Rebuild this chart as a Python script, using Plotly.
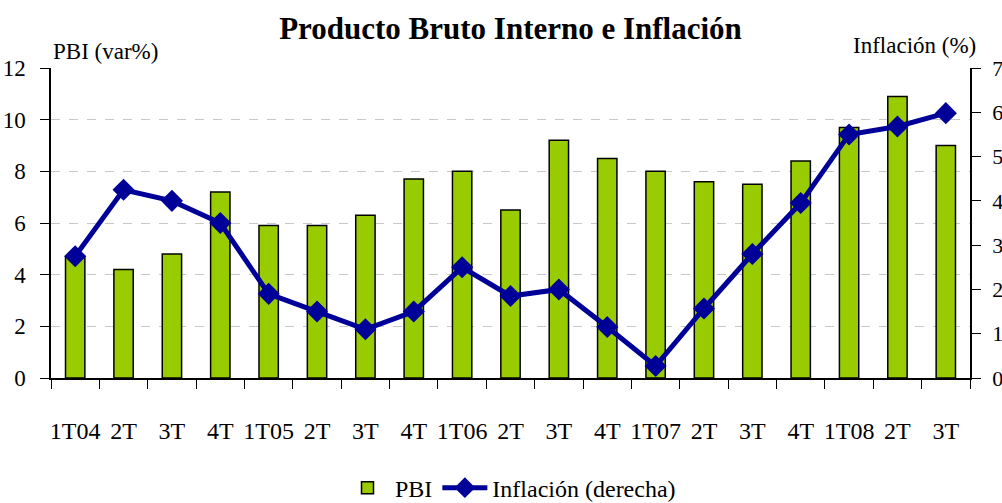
import plotly.graph_objects as go

quarters = ["1T04", "2T", "3T", "4T", "1T05", "2T", "3T", "4T", "1T06", "2T",
            "3T", "4T", "1T07", "2T", "3T", "4T", "1T08", "2T", "3T"]
pbi = [4.7, 4.2, 4.8, 7.2, 5.9, 5.9, 6.3, 7.7, 8.0, 6.5,
       9.2, 8.5, 8.0, 7.6, 7.5, 8.4, 9.7, 10.9, 9.0]
inflacion = [2.75, 4.25, 4.0, 3.5, 1.9, 1.5, 1.1, 1.5, 2.5, 1.85,
             2.0, 1.15, 0.27, 1.57, 2.8, 3.95, 5.5, 5.68, 5.98]

x = list(range(len(quarters)))
FONT = "Liberation Serif, Times New Roman, serif"

W, H = 1002, 503

fig = go.Figure()
fig.add_trace(go.Bar(
    x=x, y=pbi, name="PBI", width=0.4,
    marker=dict(color="#99CC00", line=dict(color="black", width=1.5)),
    yaxis="y",
))
fig.add_trace(go.Scatter(
    x=x, y=inflacion, name="Inflación (derecha)", mode="lines+markers",
    line=dict(color="#000099", width=5),
    marker=dict(symbol="diamond", size=17, color="#000099"),
    yaxis="y2",
))

fig.update_layout(
    width=W, height=H,
    margin=dict(l=51, r=32, t=68, b=125, autoexpand=False),
    paper_bgcolor="white", plot_bgcolor="white",
    font=dict(family=FONT, size=23, color="black"),
    title=dict(text="<b>Producto Bruto Interno e Inflación</b>",
               x=0.5, xref="paper", xanchor="center",
               y=1 - 28 / H, yanchor="middle",
               font=dict(family=FONT, size=31, color="black")),
    showlegend=True,
    legend=dict(orientation="h", x=0.5, xanchor="center", y=-0.355, yanchor="middle",
                font=dict(family=FONT, size=24), bgcolor="rgba(0,0,0,0)",
                itemwidth=45, tracegroupgap=0),
    xaxis=dict(range=[-0.5, len(quarters) - 0.5], tickmode="array",
               tickvals=x, ticktext=quarters, ticks="", automargin=False,
               showline=True, linecolor="black", linewidth=1.5,
               showgrid=False, zeroline=False,
               ticklabelstandoff=30,
               minor=dict(ticks="outside", tickmode="array",
                          tickvals=[i - 0.5 for i in range(len(quarters) + 1)],
                          ticklen=9, tickcolor="black", tickwidth=1.2, showgrid=False),
               tickfont=dict(family=FONT, size=24)),
    yaxis=dict(range=[0, 12], dtick=2, tick0=0, automargin=False,
               showline=True, linecolor="black", linewidth=1.5,
               ticks="outside", ticklen=9, tickcolor="black", tickwidth=1.2,
               showgrid=True, gridcolor="#c8c8c8", griddash="dash", gridwidth=1,
               zeroline=False, ticklabelstandoff=10,
               tickfont=dict(family=FONT, size=23)),
    yaxis2=dict(range=[0, 7], dtick=1, tick0=0, overlaying="y", side="right",
                automargin=False,
                showline=True, linecolor="black", linewidth=1.5,
                ticks="outside", ticklen=9, tickcolor="black", tickwidth=1.2,
                showgrid=False, zeroline=False, ticklabelstandoff=7,
                tickfont=dict(family=FONT, size=22)),
    annotations=[
        dict(text="PBI (var%)", xref="paper", yref="paper", x=0, y=1,
             xanchor="left", yanchor="bottom", yshift=2, showarrow=False,
             font=dict(family=FONT, size=23)),
        dict(text="Inflación (%)", xref="paper", yref="paper", x=1.0087, y=1,
             xanchor="right", yanchor="bottom", yshift=8, showarrow=False,
             font=dict(family=FONT, size=23)),
    ],
)

fig.write_html("out.html", config={"displayModeBar": False},
               post_script="document.body.style.margin='0';document.body.style.overflow='hidden';")
